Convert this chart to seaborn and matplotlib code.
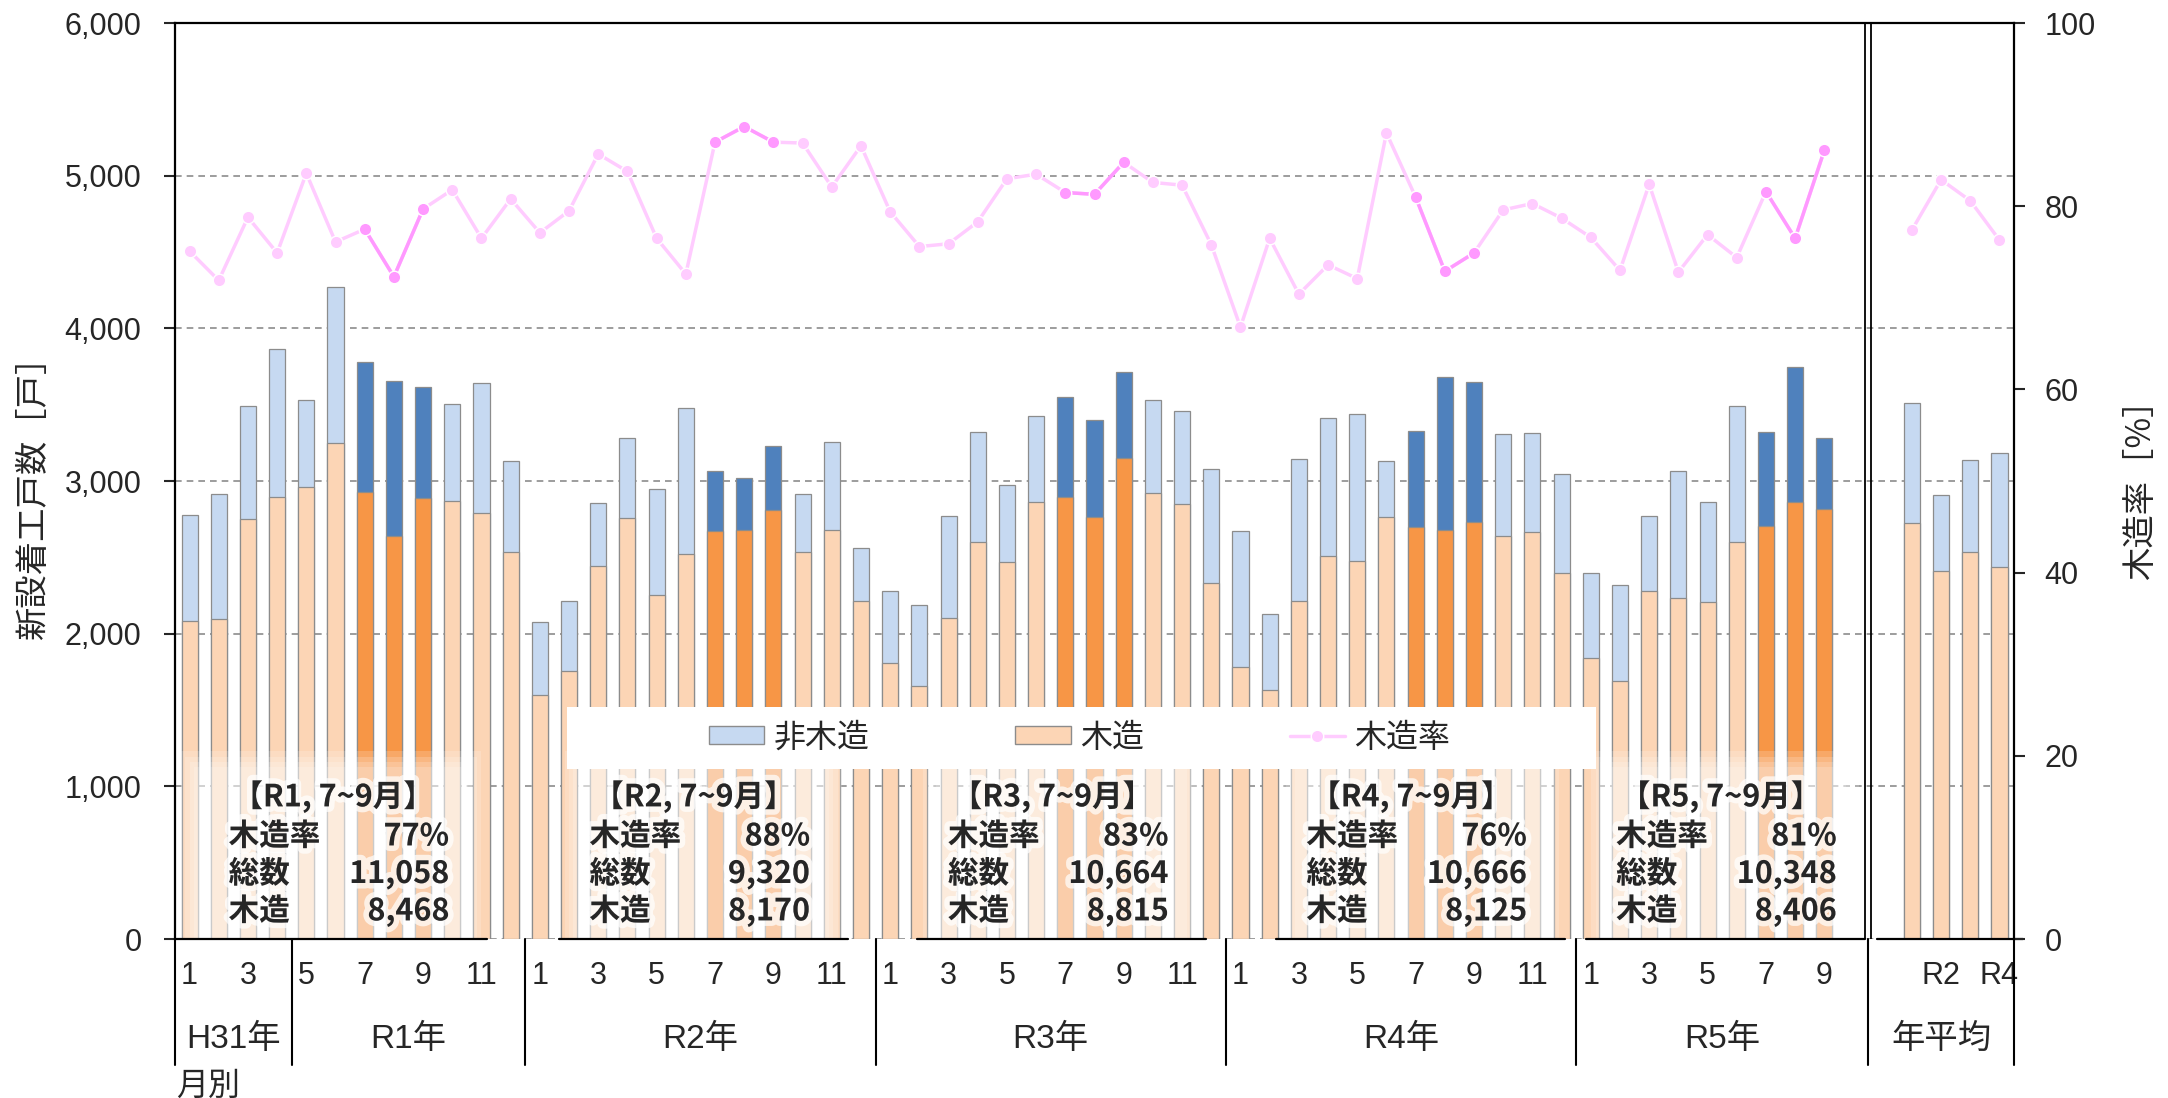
import numpy as np
import pandas as pd
import matplotlib
matplotlib.use("Agg")
import matplotlib.pyplot as plt
import matplotlib.transforms as mtransforms
import matplotlib.patheffects as pe
from matplotlib.patches import Patch, Rectangle
from matplotlib.lines import Line2D
import seaborn as sns

# ---- data ----
year_names = ["H31年", "R1年", "R2年", "R3年", "R4年", "R5年"]
year_months = [
    [1, 2, 3, 4],
    [5, 6, 7, 8, 9, 10, 11, 12],
    list(range(1, 13)),
    list(range(1, 13)),
    list(range(1, 13)),
    list(range(1, 10)),
]
total = [
    2776, 2912, 3490, 3864,
    3532, 4274, 3782, 3654, 3619, 3504, 3645, 3132,
    2077, 2212, 2853, 3284, 2945, 3481, 3069, 3017, 3228, 2916, 3258, 2562,
    2280, 2186, 2769, 3319, 2973, 3425, 3553, 3399, 3712, 3530, 3460, 3078,
    2671, 2130, 3146, 3413, 3436, 3134, 3331, 3682, 3651, 3307, 3315, 3045,
    2399, 2322, 2769, 3069, 2865, 3493, 3319, 3747, 3279,
]
wood = [
    2084, 2093, 2752, 2898,
    2959, 3251, 2929, 2643, 2886, 2868, 2788, 2533,
    1601, 1758, 2444, 2757, 2252, 2523, 2671, 2676, 2811, 2533, 2676, 2217,
    1807, 1655, 2102, 2601, 2470, 2863, 2896, 2765, 3148, 2919, 2849, 2332,
    1782, 1632, 2212, 2512, 2474, 2762, 2699, 2680, 2734, 2638, 2664, 2395,
    1838, 1693, 2282, 2235, 2205, 2603, 2708, 2863, 2818,
]
rate = [
    75.1, 71.9, 78.8, 74.9,
    83.6, 76.1, 77.5, 72.3, 79.7, 81.8, 76.5, 80.8,
    77.1, 79.5, 85.7, 83.8, 76.5, 72.6, 87.0, 88.7, 87.0, 86.9, 82.1, 86.6,
    79.4, 75.6, 75.9, 78.3, 83.0, 83.5, 81.5, 81.3, 84.8, 82.6, 82.3, 75.8,
    66.8, 76.5, 70.4, 73.6, 72.1, 88.0, 81.0, 72.9, 74.9, 79.6, 80.3, 78.7,
    76.6, 73.0, 82.4, 72.8, 76.9, 74.4, 81.6, 76.5, 86.1,
]
avg_labels = ["R1", "R2", "R3", "R4"]
avg_total = [3513, 2910, 3139, 3186]
avg_wood = [2722, 2409, 2533, 2434]
avg_rate = [77.4, 82.9, 80.6, 76.3]

box_titles = ["【R1, 7~9月】", "【R2, 7~9月】", "【R3, 7~9月】", "【R4, 7~9月】", "【R5, 7~9月】"]
box_rate = [77, 88, 83, 76, 81]
box_total = [11058, 9320, 10664, 10666, 10348]
box_wood = [8468, 8170, 8815, 8125, 8406]

# ---- build tables ----
n_month = len(total)
pos = list(range(n_month)) + [59, 60, 61, 62]
month_of = [m for ms in year_months for m in ms]
year_of = [i for i, ms in enumerate(year_months) for _ in ms]
hl = [("hl" if (year_of[i] >= 1 and month_of[i] in (7, 8, 9)) else "n") for i in range(n_month)]
hl += ["n"] * 4

df = pd.DataFrame({
    "pos": pos,
    "total": total + avg_total,
    "wood": wood + avg_wood,
    "hl": hl,
})
df_rate = pd.DataFrame({
    "pos": pos,
    "rate": rate + avg_rate,
    "seg": [0] * n_month + [1] * 4,
})
hl_idx = [i for i in range(n_month) if hl[i] == "hl"]
df_hl = pd.DataFrame({
    "pos": [pos[i] for i in hl_idx],
    "rate": [rate[i] for i in hl_idx],
    "seg": [year_of[i] for i in hl_idx],
})

# ---- style ----
sns.set_theme(style="white")
plt.rcParams["font.family"] = ["Liberation Sans", "Noto Sans CJK JP", "DejaVu Sans"]
CJK = ["Noto Sans CJK JP", "DejaVu Sans"]

C_NW, C_NW_HL = "#C6D9F1", "#4F81BD"
C_W, C_W_HL = "#FCD5B5", "#F79646"
C_R, C_R_HL = "#FFCCFF", "#FF99FF"

fig, ax = plt.subplots(figsize=(21.68, 10.98), dpi=100)
fig.subplots_adjust(left=0.0807, right=0.9290, bottom=0.1448, top=0.979)

bar_kw = dict(native_scale=True, width=0.55, dodge=False, errorbar=None, saturation=1,
              edgecolor="#8C8C8C", linewidth=0.9, legend=False, ax=ax)
sns.barplot(data=df, x="pos", y="total", hue="hl", palette={"n": C_NW, "hl": C_NW_HL}, **bar_kw)
sns.barplot(data=df, x="pos", y="wood", hue="hl", palette={"n": C_W, "hl": C_W_HL}, **bar_kw)

ax.set_xlim(-0.5, 62.5)
ax.set_ylim(0, 6000)
ax.set_yticks(range(0, 6001, 1000))
ax.set_yticklabels([f"{v:,}" for v in range(0, 6001, 1000)], fontsize=22)
ax.set_axisbelow(True)
ax.yaxis.grid(True, linestyle=(0, (4, 3)), color="#8C8C8C", linewidth=1.2)
ax.tick_params(axis="y", left=True, direction="out", length=8, width=1.5, pad=16)

# month / annual tick labels
tick_pos = [p for p, m in zip(range(n_month), month_of) if m % 2 == 1] + [60, 62]
tick_lab = [str(m) for m in month_of if m % 2 == 1] + [avg_labels[1], avg_labels[3]]
ax.set_xticks(tick_pos)
ax.set_xticklabels(tick_lab, fontsize=22)
ax.tick_params(axis="x", length=0, pad=16)
ax.set_xlabel("")
ax.set_ylabel("新設着工戸数［戸］", fontsize=24, family=CJK)
ax.yaxis.set_label_coords(-0.0675, 0.49)

for s in ["left", "top"]:
    ax.spines[s].set_color("black")
    ax.spines[s].set_linewidth(1.6)
ax.spines["right"].set_visible(False)
ax.spines["bottom"].set_visible(False)

# year group labels and separators below the axis
trans = mtransforms.blended_transform_factory(ax.transData, ax.transAxes)
bounds = [-0.5]
for ms in year_months:
    bounds.append(bounds[-1] + len(ms))
bounds[-1] = 57.5
bounds.append(62.5)
for x in bounds:
    ax.plot([x, x], [0, -0.1376], transform=trans, color="black", lw=1.5, clip_on=False)
group_names = year_names + ["年平均"]
for name, a, b in zip(group_names, bounds[:-1], bounds[1:]):
    ax.text((a + b) / 2, -0.110, name, transform=trans, ha="center", va="center", fontsize=24)
ax.text(-0.45, -0.160, "月別", transform=trans, ha="left", va="center", fontsize=23, family=CJK)

# double separator between monthly and annual parts
for x in (57.4, 57.6):
    ax.axvline(x, color="black", lw=1.3, zorder=4)
ax.plot([57.8, 62.8], [0, 0], color="black", lw=1.6, clip_on=False, zorder=6)

# summary boxes (soft white overlay + glowing text)
box_left = [1.34, 13.70, 25.98, 38.26, 48.87]
glow = [pe.withStroke(linewidth=8, foreground="white", alpha=0.7)]
for i, L in enumerate(box_left):
    x0, x1 = L - 1.05, min(L + 8.85, 57.4)
    if i == 0:
        x0 = -0.5
    for k in range(4):
        inset = 0.15 * k
        ax.add_patch(Rectangle((x0 + 0.2 + inset, 0), x1 - x0 - 0.4 - 2 * inset, 1230 - 35 * k,
                               facecolor="white", alpha=0.18, edgecolor="none", zorder=3))
    ax.plot([x0, x1], [0, 0], color="black", lw=1.6, clip_on=False, zorder=6)
    kw = dict(fontsize=22, fontweight="bold", va="center", zorder=7, path_effects=glow, family=CJK)
    ax.text(L + 3.57, 930, box_titles[i], ha="center", **kw)
    rows = [("木造率", f"{box_rate[i]}%"), ("総数", f"{box_total[i]:,}"), ("木造", f"{box_wood[i]:,}")]
    for (lab, val), y in zip(rows, [672, 426, 181]):
        ax.text(L, y, lab, ha="left", **kw)
        ax.text(L + 7.55, y, val, ha="right", **kw)

# rate line on the secondary axis
ax2 = ax.twinx()
line_kw = dict(x="pos", y="rate", units="seg", estimator=None, lw=2.5, marker="o",
               markersize=9, markeredgecolor="white", markeredgewidth=1, ax=ax2)
sns.lineplot(data=df_rate, color=C_R, **line_kw)
sns.lineplot(data=df_hl, color=C_R_HL, **line_kw)
ax2.set_ylim(0, 100)
ax2.set_yticks(range(0, 101, 20))
ax2.set_yticklabels([str(v) for v in range(0, 101, 20)], fontsize=22)
ax2.tick_params(axis="y", right=True, direction="out", length=8, width=1.5, pad=14)
ax2.set_xlabel("")
ax2.set_ylabel("木造率［%］", fontsize=24, family=CJK)
ax2.yaxis.set_label_coords(1.0595, 0.5)
ax2.grid(False)
for s in ["left", "bottom", "top"]:
    ax2.spines[s].set_visible(False)
ax2.spines["right"].set_color("black")
ax2.spines["right"].set_linewidth(1.6)
ax2.set_xlim(-0.5, 62.5)

# legend with a wide white frame
ax2.add_patch(Rectangle((0.2132, 0.186), 0.5595, 0.0675, transform=ax2.transAxes,
                        facecolor="white", edgecolor="none", zorder=8))
handles = [
    Patch(facecolor=C_NW, edgecolor="#8C8C8C", label="非木造"),
    Patch(facecolor=C_W, edgecolor="#8C8C8C", label="木造"),
    Line2D([], [], color=C_R, lw=2.5, marker="o", markersize=9, markeredgecolor="white", label="木造率"),
]
leg = ax2.legend(handles=handles, loc="center", bbox_to_anchor=(0.492, 0.2198), ncol=3,
                 frameon=False, prop={"family": CJK, "size": 23}, handlelength=1.73,
                 handleheight=0.5, handletextpad=0.3, columnspacing=4.55)
leg.set_zorder(9)

fig.savefig("out.png", dpi=100)
